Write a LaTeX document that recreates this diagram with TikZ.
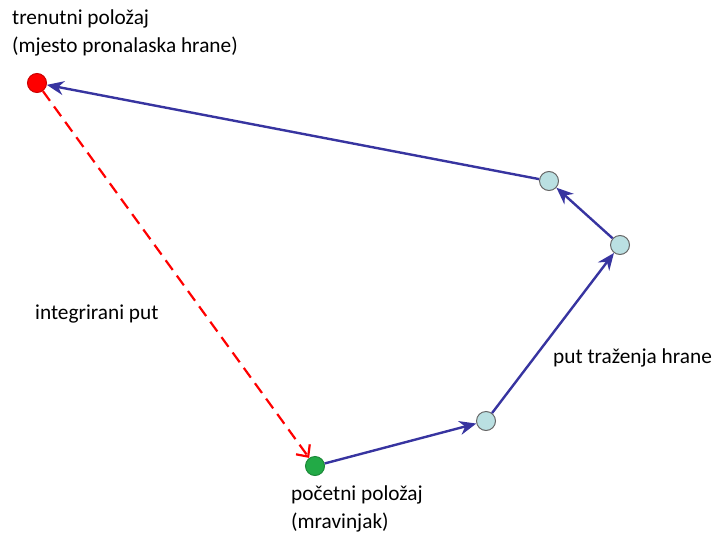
\documentclass[tikz,border=0pt]{standalone}
\usepackage{fontspec}
\setmainfont{Carlito}
\usetikzlibrary{arrows.meta}
\definecolor{pathblue}{RGB}{55,52,160}
\definecolor{visit}{RGB}{186,224,226}
\definecolor{nestgreen}{RGB}{34,170,70}
\begin{document}
\begin{tikzpicture}[x=1pt,y=-1pt,
  dot/.style={circle,inner sep=0pt,minimum size=19pt,draw=gray!80!black,line width=1pt},
  lbl/.style={font=\fontsize{21.3}{28}\selectfont,anchor=west,align=left,inner sep=0pt},
  walk/.style={draw=pathblue,line width=2.4pt,-{Stealth[length=17pt,width=14pt,inset=5.5pt]}},
  home/.style={draw=red,line width=2.2pt,dash pattern=on 12pt off 7pt,-{Straight Barb[length=9pt,width=17pt]}}]
\useasboundingbox (0,0) rectangle (714,546);
\node[dot,fill=red,draw=red!80!black] (cur) at (37,83) {};
\node[dot,fill=nestgreen,draw=nestgreen!80!black] (nest) at (315,466) {};
\node[dot,fill=visit] (p1) at (486,421) {};
\node[dot,fill=visit] (p2) at (620,245) {};
\node[dot,fill=visit] (p3) at (549,181) {};
\draw[walk] (nest) -- (p1);
\draw[walk] (p1) -- (p2);
\draw[walk] (p2) -- (p3);
\draw[walk] (p3) -- (cur);
\draw[home] (cur) -- (nest);
\node[lbl] (tcur) at (12,33) {trenutni položaj\\(mjesto pronalaska hrane)};
\node[lbl] (tint) at (35,314) {integrirani put};
\node[lbl] (tsearch) at (553,358) {put traženja hrane};
\node[lbl] (tnest) at (291,509) {početni položaj\\(mravinjak)};
\end{tikzpicture}
\end{document}
